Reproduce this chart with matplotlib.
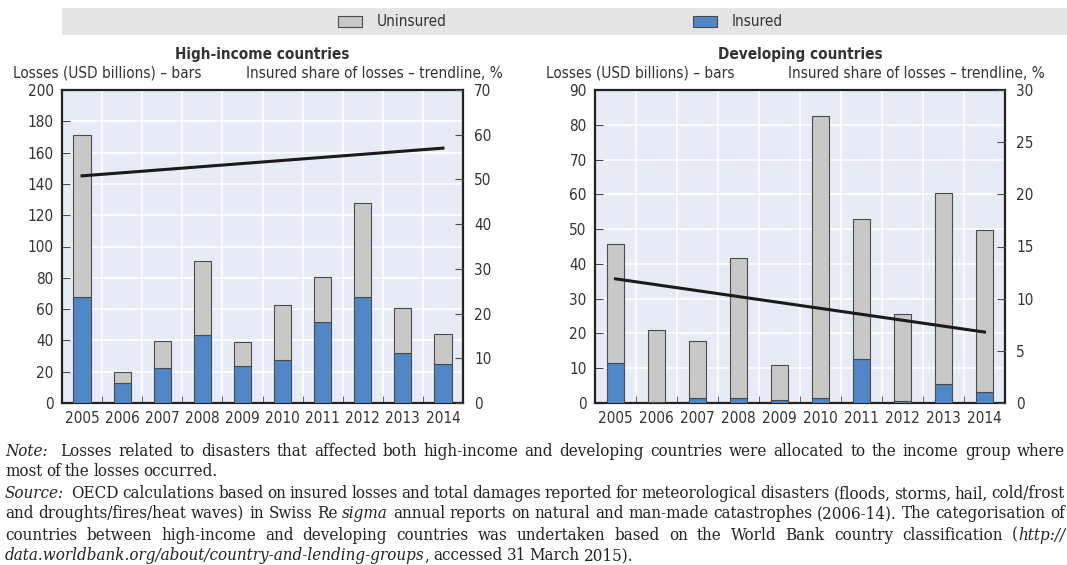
import matplotlib.pyplot as plt
from matplotlib.patches import Rectangle

years = ['2005', '2006', '2007', '2008', '2009', '2010', '2011', '2012', '2013', '2014']

# High-income countries, USD billions
hi_insured = [67.5, 12.5, 22.2, 43.5, 23.5, 27.5, 52.0, 68.0, 32.0, 25.0]
hi_uninsured = [104.0, 7.5, 17.5, 47.0, 15.5, 35.0, 28.5, 59.5, 28.5, 19.0]
hi_trend = [50.8, 57.0]

# Developing countries, USD billions
dev_insured = [11.6, 0.4, 1.4, 1.4, 1.0, 1.4, 12.6, 0.7, 5.4, 3.3]
dev_uninsured = [34.1, 20.6, 16.4, 40.2, 10.0, 81.1, 40.2, 24.9, 54.9, 46.5]
dev_trend = [11.9, 6.8]

serif = ['DejaVu Serif']
plt.rcParams['font.family'] = ['DejaVu Sans']
plt.rcParams['font.stretch'] = 'condensed'

W, H = 1067, 565
fig = plt.figure(figsize=(W / 100, H / 100), dpi=100)

grey = '#c8c8c8'
blue = '#4f87c7'
edge = '#4a4a4a'
bg = '#e7ebf6'
txt = '#333333'


def fx(px):
    return px / W


def fy(py):
    return 1 - py / H


def panel(left, right, title, ins, unins, trend, ymax, ystep, y2max, y2step):
    ax = fig.add_axes([fx(left), fy(403), fx(right - left), (403 - 90) / H])
    x = list(range(len(years)))
    ax.set_facecolor(bg)
    ax.bar(x, ins, width=0.43, color=blue, edgecolor=edge, linewidth=0.8, zorder=3)
    ax.bar(x, unins, width=0.43, bottom=ins, color=grey, edgecolor=edge, linewidth=0.8, zorder=3)
    ax.set_xlim(-0.5, len(years) - 0.5)
    ax.set_ylim(0, ymax)
    ax.set_yticks(range(0, ymax + 1, ystep))
    ax.set_xticks(x)
    ax.set_xticklabels(years)
    ax.set_xticks([i + 0.5 for i in x[:-1]], minor=True)
    ax.grid(axis='y', color='white', linewidth=1.2, zorder=0)
    ax.grid(axis='x', which='minor', color='white', linewidth=1.2, zorder=0)
    ax.tick_params(axis='x', which='major', length=0, pad=6, labelsize=11, labelcolor=txt)
    ax.tick_params(axis='x', which='minor', direction='in', length=5, color=edge)
    ax.tick_params(axis='y', direction='in', length=6, labelsize=11, labelcolor=txt, color=edge, pad=6)
    for s in ax.spines.values():
        s.set_color('#222222')
        s.set_linewidth(1.6)

    ax2 = ax.twinx()
    ax2.plot([x[0], x[-1]], trend, color='#1a1a1a', linewidth=2.2, zorder=5)
    ax2.set_ylim(0, y2max)
    ax2.set_yticks(range(0, y2max + 1, y2step))
    ax2.tick_params(axis='y', direction='in', length=6, labelsize=11, labelcolor=txt, color=edge, pad=8)
    for s in ax2.spines.values():
        s.set_visible(False)

    fig.text(fx((left + right) / 2), fy(55), title, ha='center', va='center',
             fontsize=11, fontweight='bold', color=txt)
    fig.text(fx(left - 49), fy(73), 'Losses (USD billions) – bars', ha='left', va='center',
             fontsize=11, color=txt)
    fig.text(fx(right + 40), fy(73), 'Insured share of losses – trendline, %', ha='right',
             va='center', fontsize=11, color=txt)
    return ax


panel(62, 463, 'High-income countries', hi_insured, hi_uninsured, hi_trend, 200, 20, 70, 10)
panel(595, 1005, 'Developing countries', dev_insured, dev_uninsured, dev_trend, 90, 10, 30, 5)

# legend band
fig.add_artist(Rectangle((fx(62), fy(35)), 1 - fx(62), 27 / H, transform=fig.transFigure,
                         facecolor='#e4e4e4', edgecolor='none'))
for px, label, col in [(338, 'Uninsured', grey), (693, 'Insured', blue)]:
    fig.add_artist(Rectangle((fx(px), fy(27)), fx(24), 11 / H, transform=fig.transFigure,
                             facecolor=col, edgecolor=edge, linewidth=0.8))
    fig.text(fx(px + 39), fy(21.5), label, ha='left', va='center', fontsize=11, color=txt)

# notes, set as justified lines
renderer = fig.canvas.get_renderer()
note_size = 12.2


def line(py, parts, end=None):
    words = []
    prev_space = True
    for s, italic in parts:
        bits = s.split(' ')
        for i, w in enumerate(bits):
            if w == '':
                continue
            join = i == 0 and not prev_space and len(words) > 0
            words.append((w, italic, join))
        prev_space = s.endswith(' ')
    texts = []
    widths = []
    for w, italic, _ in words:
        t = fig.text(0, fy(py), w, ha='left', va='center', fontsize=note_size,
                     family=serif, style='italic' if italic else 'normal', color='#222222')
        texts.append(t)
        widths.append(t.get_window_extent(renderer).width)
    gaps = [0 if words[i][2] else 1 for i in range(1, len(words))]
    if words[0][0] in ('Note:', 'Source:'):
        gaps[0] = 2
    space = 3.9
    if end is not None:
        space = (end - 5 - sum(widths)) / sum(gaps)
    x0 = 5
    for i, t in enumerate(texts):
        if i > 0:
            x0 += gaps[i - 1] * space
        t.set_x(fx(x0))
        x0 += widths[i]


line(452, [('Note: ', True), ('Losses related to disasters that affected both high-income and developing countries were allocated to the income group where', False)], end=1065)
line(472, [('most of the losses occurred.', False)])
line(494, [('Source: ', True), ('OECD calculations based on insured losses and total damages reported for meteorological disasters (floods, storms, hail, cold/frost', False)], end=1065)
line(514, [('and droughts/fires/heat waves) in Swiss Re ', False), ('sigma ', True), ('annual reports on natural and man-made catastrophes (2006-14). The categorisation of', False)], end=1065)
line(535, [('countries between high-income and developing countries was undertaken based on the World Bank country classification ', False), ('(', False), ('http://', True)], end=1065)
line(556, [('data.worldbank.org/about/country-and-lending-groups', True), (', accessed 31 March 2015).', False)])

fig.savefig('out.png', dpi=100)
